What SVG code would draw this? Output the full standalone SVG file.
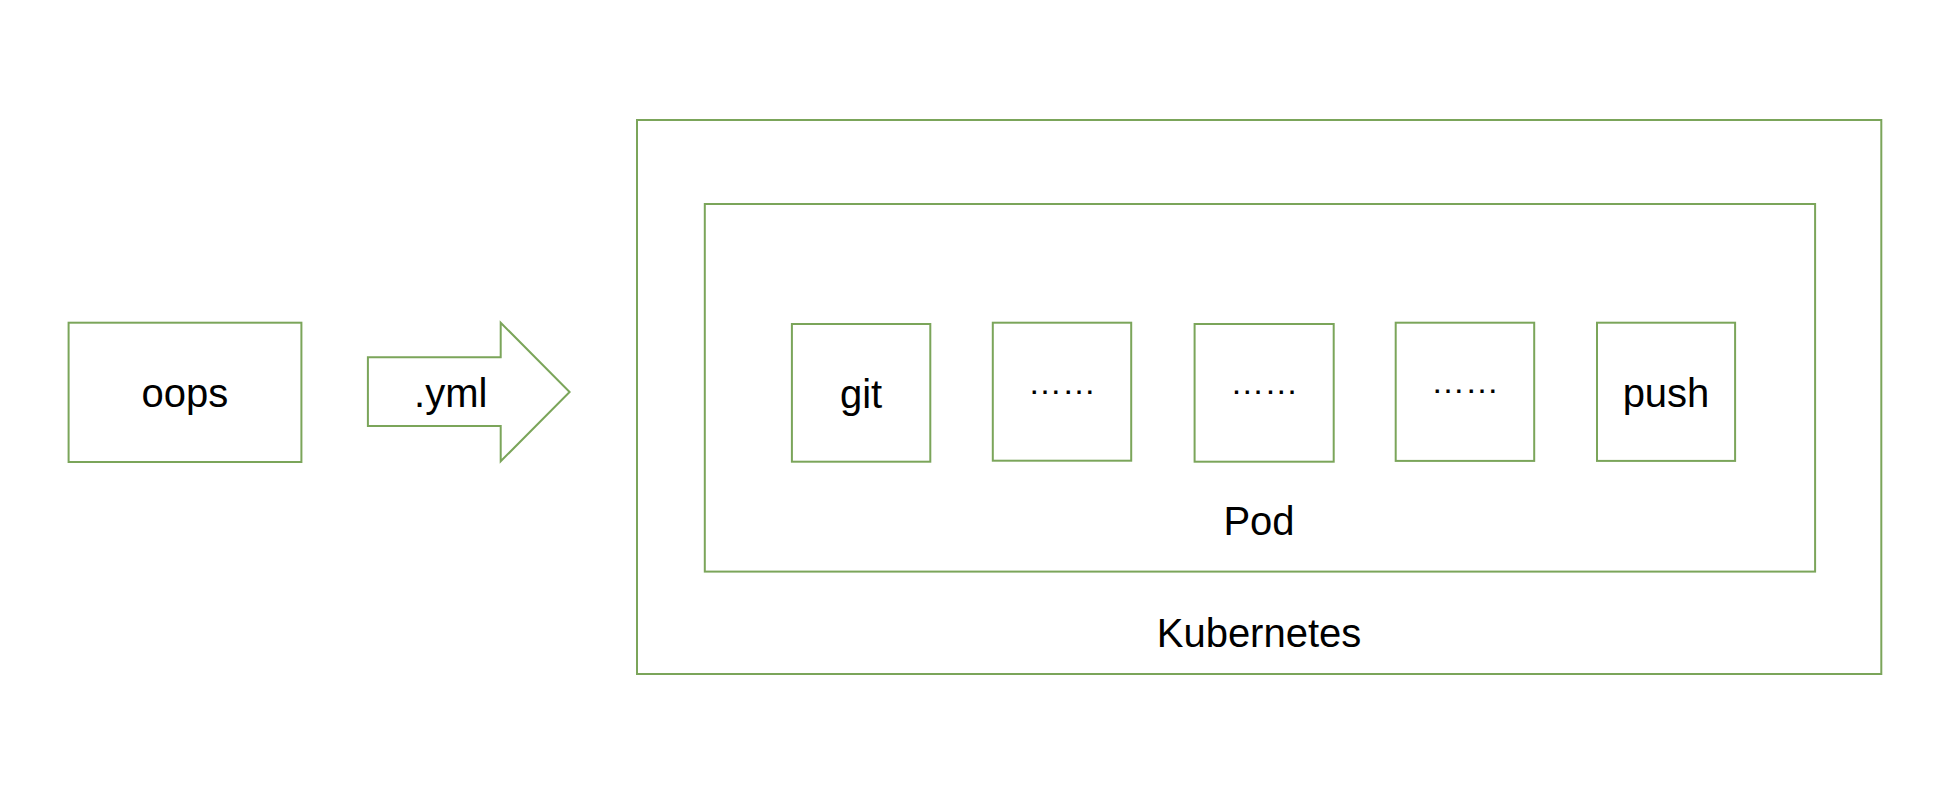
<svg xmlns="http://www.w3.org/2000/svg" width="1958" height="786" viewBox="0 0 1958 786">
<style>
.box{fill:#ffffff;stroke:#7BA55A;stroke-width:2}
.lbl{font-family:"Liberation Sans",Arial,sans-serif;font-size:40px;fill:#000000;text-anchor:middle}
.dots{font-family:"Liberation Sans",Arial,sans-serif;font-size:34px;fill:#000000;text-anchor:middle}
</style>
<rect width="1958" height="786" fill="#ffffff"/>
<g id="kubernetes">
<rect class="box" x="637" y="120" width="1244.3" height="554"/>
<text class="lbl" x="1259" y="646.7">Kubernetes</text>
</g>
<g id="pod">
<rect class="box" x="704.8" y="204" width="1110.3" height="367.6"/>
<text class="lbl" x="1259" y="535">Pod</text>
</g>
<g id="oops">
<rect class="box" x="68.6" y="322.7" width="232.8" height="139.3"/>
<text class="lbl" x="184.8" y="407">oops</text>
</g>
<g id="git">
<rect class="box" x="791.9" y="324" width="138.4" height="137.7"/>
<text class="lbl" x="861.1" y="408">git</text>
</g>
<g id="step2">
<rect class="box" x="992.8" y="322.7" width="138.4" height="138"/>
<text class="dots" x="1062" y="393.5">……</text>
</g>
<g id="step3">
<rect class="box" x="1194.6" y="324" width="139.1" height="137.7"/>
<text class="dots" x="1264.2" y="394.2">……</text>
</g>
<g id="step4">
<rect class="box" x="1395.7" y="322.7" width="138.5" height="138.2"/>
<text class="dots" x="1465" y="392.7">……</text>
</g>
<g id="push">
<rect class="box" x="1597" y="322.7" width="138.1" height="138.2"/>
<text class="lbl" x="1666" y="406.5">push</text>
</g>
<g id="connectors">
<g id="yml-arrow">
<polygon class="box" points="367.9,357.3 500.7,357.3 500.7,322.7 569.6,392 500.7,461.3 500.7,426 367.9,426"/>
<text class="lbl" x="450.7" y="407">.yml</text>
</g>
</g>
</svg>
